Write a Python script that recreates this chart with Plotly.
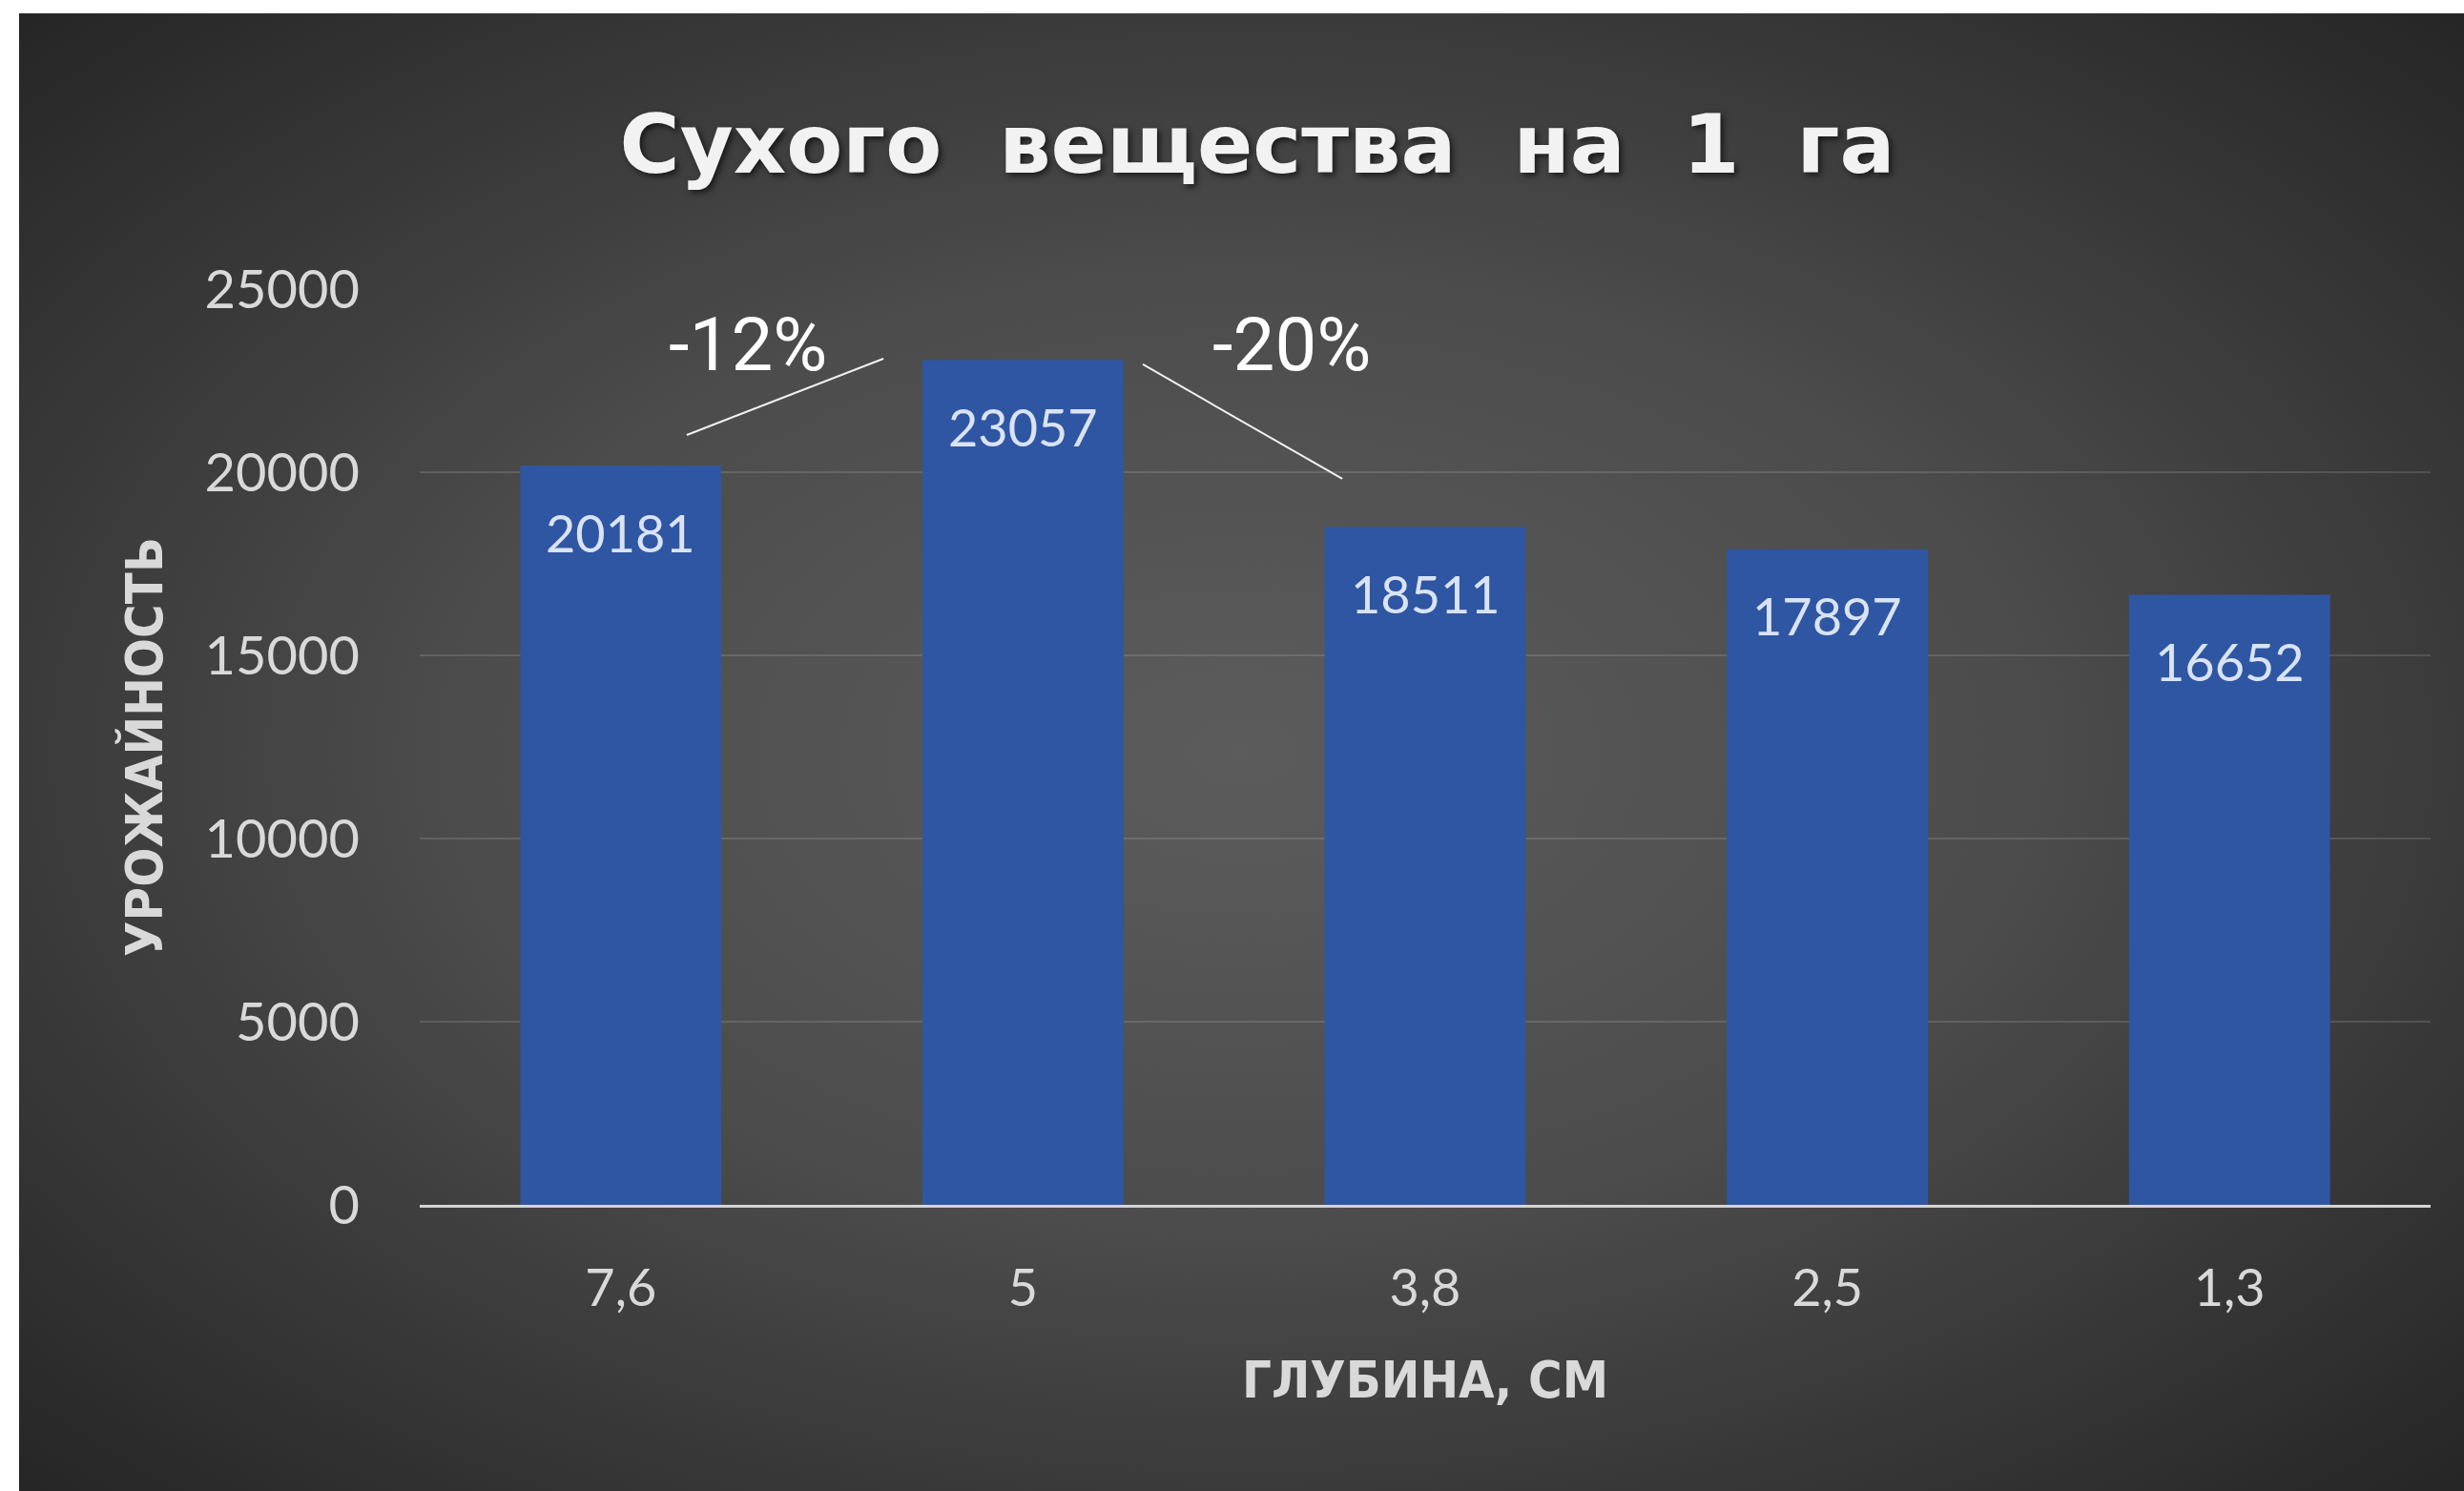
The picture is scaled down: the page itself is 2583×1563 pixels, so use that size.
import base64
import plotly.graph_objects as go

# ---- data ----
categories = ["7,6", "5", "3,8", "2,5", "1,3"]
values = [20181, 23057, 18511, 17897, 16652]
y_ticks = [0, 5000, 10000, 15000, 20000, 25000]
title_text = "Сухого вещества на 1 га"
x_title = "ГЛУБИНА, СМ"
y_title = "УРОЖАЙНОСТЬ"
pct_labels = ["-12%", "-20%"]
pct_pos = [(0.316, 23464), (1.668, 23464)]
pct_lines = [((0.164, 21016), (0.653, 23099)), ((1.298, 22943), (1.794, 19818))]

W, H = 2583, 1563
L, R, T, B = 440, 35, 303, 300

# radial gradient background as an svg image
svg = '''<svg xmlns="http://www.w3.org/2000/svg" width="2563" height="1549" viewBox="0 0 2563 1549" preserveAspectRatio="none">
<defs><radialGradient id="g" cx="0.5" cy="0.5" r="0.71">
<stop offset="0" stop-color="#5c5c5c"/>
<stop offset="0.45" stop-color="#4c4c4c"/>
<stop offset="1" stop-color="#252525"/>
</radialGradient></defs>
<rect x="0" y="0" width="2563" height="1549" fill="url(#g)"/>
</svg>'''
src = "data:image/svg+xml;base64," + base64.b64encode(svg.encode()).decode()

pw, ph = W - L - R, H - T - B

fig = go.Figure()
fig.add_trace(go.Bar(
    x=categories, y=values,
    marker=dict(color="#2F56A2", line=dict(width=0)),
    hoverinfo="skip",
))

fig.add_layout_image(dict(
    source=src, xref="paper", yref="paper",
    x=(20 - L) / pw, y=(H - B - 14) / ph,
    sizex=(W - 20) / pw, sizey=(H - 14) / ph,
    xanchor="left", yanchor="top", sizing="stretch", layer="below",
))

# data labels inside end (x given as category index)
for i, v in enumerate(values):
    fig.add_annotation(x=i, y=v, yshift=-70, text=str(v), showarrow=False,
                       font=dict(family="Lato, Noto Sans", size=54, color="#dae3f3"),
                       yanchor="middle")

for (x, y), t in zip(pct_pos, pct_labels):
    fig.add_annotation(x=x, y=y, text=t, showarrow=False,
                       font=dict(family="Roboto", size=78, color="#ffffff"),
                       yanchor="middle", xanchor="center")

for (a, b) in pct_lines:
    fig.add_shape(type="line", xref="x", yref="y", x0=a[0], y0=a[1], x1=b[0], y1=b[1],
                  line=dict(color="#f0f0f0", width=2))

fig.update_layout(
    width=W, height=H,
    margin=dict(l=L, r=R, t=T, b=B, autoexpand=False),
    paper_bgcolor="#ffffff",
    plot_bgcolor="rgba(0,0,0,0)",
    bargap=0.5,
    showlegend=False,
    title=dict(text=title_text.replace(" ", "\u00a0\u00a0"), xref="container", yref="container",
               x=1318 / W, y=1 - 151 / H, xanchor="center", yanchor="middle",
               font=dict(family="DejaVu Sans", size=86, color="#f2f2f2", weight="bold",
                         shadow="3px 3px 6px rgba(0,0,0,0.6)")),
    xaxis=dict(
        type="category", range=[-0.5, 4.5], showgrid=False,
        showline=True, linecolor="#d4d4d4", linewidth=3,
        ticks="", ticklabelstandoff=38,
        tickfont=dict(family="Lato, Noto Sans", size=54, color="#d9d9d9"),
        title=dict(text=x_title, standoff=48,
                   font=dict(family="DejaVu Sans Condensed, DejaVu Sans", size=54, color="#d9d9d9", weight="bold")),
        automargin=False,
    ),
    yaxis=dict(
        range=[0, 25000], tickvals=y_ticks, ticktext=[str(t) for t in y_ticks],
        showgrid=True, gridcolor="rgba(255,255,255,0.13)", gridwidth=2,
        zeroline=False, showline=False, ticks="", ticklabelstandoff=62,
        tickfont=dict(family="Lato, Noto Sans", size=56, color="#d9d9d9"),
        title=dict(text=y_title, standoff=26,
                   font=dict(family="DejaVu Sans Condensed, DejaVu Sans", size=54, color="#d9d9d9", weight="bold")),
        automargin=False,
    ),
)

fig.write_html("out.html", config={"displayModeBar": False},
               post_script="document.body.style.margin='0px';")
